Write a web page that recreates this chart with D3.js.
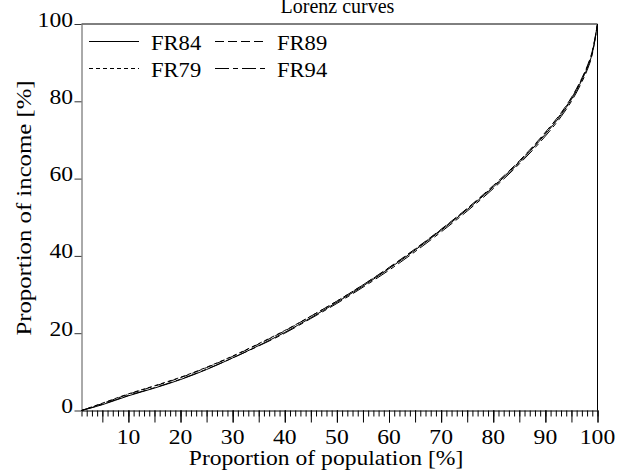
<!DOCTYPE html>
<html>
<head>
<meta charset="utf-8">
<script src="https://cdn.jsdelivr.net/npm/d3@7"></script>
</head>
<body style="margin:0;padding:0;background:#fff">
<svg id="chart" width="619" height="475" style="display:block"></svg>
<script>
// ---- data ----
const title = "Lorenz curves";
const xLabel = "Proportion of population [%]";
const yLabel = "Proportion of income [%]";
const population = [1, 5, 10, 15, 20, 25, 30, 35, 40, 45, 50, 55, 60, 65, 70, 75, 80, 85, 90, 93, 95, 97, 98, 99, 100];
const fr84 = [0, 1.5, 3.8, 5.8, 8.0, 10.6, 13.6, 16.8, 20.2, 24.0, 28.0, 32.2, 36.7, 41.5, 46.6, 52.0, 57.8, 64.2, 71.5, 76.5, 80.5, 85.5, 88.5, 92.5, 100];
const fr89 = [0, 1.8, 4.2, 6.3, 8.5, 11.1, 14.0, 17.2, 20.6, 24.4, 28.3, 32.5, 37.0, 41.8, 46.9, 52.3, 58.2, 64.6, 72.0, 77.0, 81.0, 86.0, 89.0, 93.0, 100];
const fr79 = [0, 1.9, 4.3, 6.4, 8.6, 11.2, 14.1, 17.3, 20.7, 24.4, 28.3, 32.5, 36.9, 41.7, 46.8, 52.2, 58.0, 64.4, 71.8, 76.8, 80.8, 85.8, 88.8, 92.8, 100];
const fr94 = [0, 1.6, 3.9, 5.9, 8.1, 10.7, 13.6, 16.7, 20.0, 23.8, 27.7, 31.9, 36.3, 41.1, 46.2, 51.6, 57.4, 63.8, 71.0, 76.0, 80.0, 85.0, 88.0, 92.2, 100];
const seriesNames = ["FR84", "FR89", "FR79", "FR94"];
const seriesValues = [fr84, fr89, fr79, fr94];
const xTickLabels = [10, 20, 30, 40, 50, 60, 70, 80, 90, 100];
const yTickLabels = [0, 20, 40, 60, 80, 100];

// ---- layout / style ----
const FONT = "'Liberation Serif'";
const dashes = { FR84: null, FR89: "9,4", FR79: "4,3", FR94: "14,4,5,4" };
const plotL = 81.5, plotR = 597.5, plotT = 24, plotB = 410.5;
const sx = 1.18; // reference glyphs are wider than Times at the same height

const svg = d3.select("#chart");
const x = d3.scaleLinear().domain([1, 100]).range([plotL, plotR]);
const y = d3.scaleLinear().domain([0, 100]).range([plotB, plotT]);

// frame top / right
svg.append("line").attr("x1", plotL).attr("x2", plotR).attr("y1", plotT).attr("y2", plotT)
  .attr("stroke", "#000").attr("stroke-width", 1);
svg.append("line").attr("x1", plotR).attr("x2", plotR).attr("y1", plotT).attr("y2", plotB)
  .attr("stroke", "#000").attr("stroke-width", 1);

// minor x ticks (every unit)
const xMinor = svg.append("g").attr("transform", `translate(0,${plotB})`)
  .call(d3.axisBottom(x).tickValues(d3.range(1, 101)).tickSize(6).tickFormat(""));
xMinor.select(".domain").remove();
xMinor.selectAll("text").remove();
xMinor.selectAll("line").attr("stroke", "#000");

// medium x ticks (every 5)
const xMid = svg.append("g").attr("transform", `translate(0,${plotB})`)
  .call(d3.axisBottom(x).tickValues(d3.range(5, 101, 5)).tickSize(12).tickFormat(""));
xMid.select(".domain").remove();
xMid.selectAll("text").remove();
xMid.selectAll("line").attr("stroke", "#000");

// x axis line + labels
const xAxis = svg.append("g").attr("transform", `translate(0,${plotB})`)
  .call(d3.axisBottom(x).tickValues(xTickLabels).tickSize(12).tickSizeOuter(0).tickFormat(""));
xAxis.select(".domain").attr("stroke", "#000");
xAxis.selectAll("line").attr("stroke", "#000");
xAxis.selectAll("text").remove();
svg.append("g").selectAll("text").data(xTickLabels).join("text")
  .attr("transform", d => `translate(${x(d)},${plotB + 33.5}) scale(${sx},1)`)
  .attr("text-anchor", "middle")
  .attr("fill", "#000")
  .style("font-family", FONT)
  .style("font-size", "20px")
  .text(d => d);

// y axis
const yAxis = svg.append("g").attr("transform", `translate(${plotL},0)`)
  .call(d3.axisLeft(y).tickValues(yTickLabels).tickSize(7).tickSizeOuter(0).tickFormat(""));
yAxis.select(".domain").attr("stroke", "#555");
yAxis.selectAll("line").attr("stroke", "#333");
yAxis.selectAll("text").remove();
svg.append("g").selectAll("text").data(yTickLabels).join("text")
  .attr("transform", d => `translate(${plotL - 8.5},${y(d) + 2.5}) scale(${sx},1)`)
  .attr("text-anchor", "end")
  .attr("fill", "#000")
  .style("font-family", FONT)
  .style("font-size", "20px")
  .text(d => d);

// curves
const line = d3.line()
  .x((d, i) => x(population[i]))
  .y(d => y(d))
  .curve(d3.curveMonotoneX);
seriesNames.forEach((name, k) => {
  svg.append("path")
    .datum(seriesValues[k])
    .attr("d", line)
    .attr("fill", "none")
    .attr("stroke", "#000")
    .attr("stroke-width", 1)
    .attr("stroke-dasharray", dashes[name]);
});

// legend
const legendPos = [
  { lx: 89, ty: 41.5 }, { lx: 215, ty: 41.5 },
  { lx: 89, ty: 68.5 }, { lx: 215, ty: 68.5 }
];
seriesNames.forEach((name, k) => {
  const p = legendPos[k];
  svg.append("line")
    .attr("x1", p.lx).attr("x2", p.lx + 50)
    .attr("y1", p.ty).attr("y2", p.ty)
    .attr("stroke", "#000").attr("stroke-width", 1)
    .attr("stroke-dasharray", dashes[name]);
  svg.append("text")
    .attr("transform", `translate(${p.lx + 62},${p.ty + 8.5}) scale(1.05,1)`)
    .attr("fill", "#000")
    .style("font-family", FONT)
    .style("font-size", "21.5px")
    .text(name);
});

// title
svg.append("text")
  .attr("x", (plotL + plotR) / 2 - 2).attr("y", 12.5)
  .attr("text-anchor", "middle")
  .attr("fill", "#000")
  .style("font-family", FONT)
  .style("font-size", "20px")
  .text(title);

// axis titles
svg.append("text")
  .attr("transform", `translate(326,465) scale(${sx},1)`)
  .attr("text-anchor", "middle")
  .attr("fill", "#000")
  .style("font-family", FONT)
  .style("font-size", "20px")
  .text(xLabel);

svg.append("text")
  .attr("transform", `translate(30.5,208) rotate(-90) scale(${sx},1)`)
  .attr("text-anchor", "middle")
  .attr("fill", "#000")
  .style("font-family", FONT)
  .style("font-size", "21px")
  .text(yLabel);
</script>
</body>
</html>
